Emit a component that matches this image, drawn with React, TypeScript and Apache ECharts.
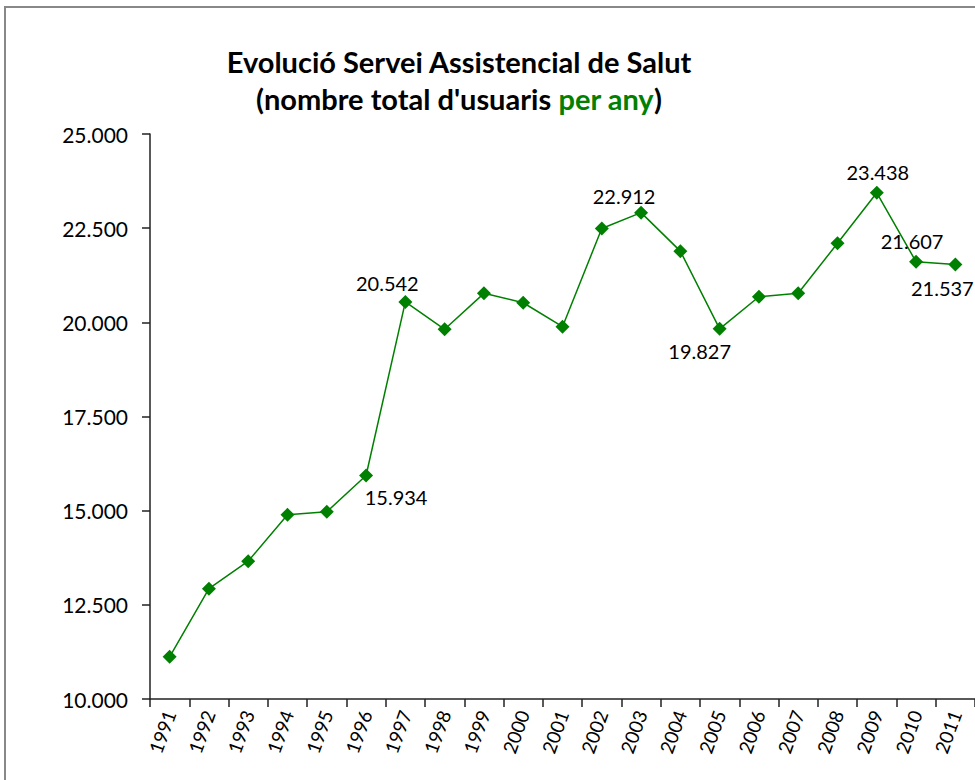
import React, { useEffect, useRef } from "react";
import * as echarts from "echarts";

const years = ["1991","1992","1993","1994","1995","1996","1997","1998","1999","2000","2001","2002","2003","2004","2005","2006","2007","2008","2009","2010","2011"];
const users = [11120,12930,13660,14890,14970,15934,20542,19815,20770,20520,19885,22490,22912,21890,19827,20680,20770,22100,23438,21607,21537];
// label offsets (dx, dy) from marker center for labeled points; null = no label
const labelOffsets: ([number, number] | null)[] = [null,null,null,null,null,[30,22],[-18,-19],null,null,null,null,null,[-17,-17],null,[-20,22],null,null,null,[1,-21],[-4,-21],[-13,24]];
const titleLine1 = "Evolució Servei Assistencial de Salut";
const titleLine2a = "(nombre total d'usuaris ";
const titleLine2b = "per any";
const titleLine2c = ")";

const FONT = "Lato, 'Open Sans', sans-serif";
const fmt = (n: number) => String(Math.round(n)).replace(/\B(?=(\d{3})+(?!\d))/g, ".");

export default function App() {
  const ref = useRef<HTMLDivElement>(null);
  useEffect(() => {
    if (!ref.current) return;
    const chart = echarts.init(ref.current, null, { renderer: "svg" });
    chart.setOption({
      animation: false,
      backgroundColor: "#ffffff",
      textStyle: { fontFamily: FONT },
      graphic: [
        { type: "rect", shape: { x: 5, y: 7, width: 1000, height: 800 }, style: { fill: "none", stroke: "#888888", lineWidth: 2 }, silent: true }
      ],
      title: {
        left: 459,
        top: 43,
        padding: 0,
        textAlign: "center",
        text: `{a|${titleLine1}}\n{a|${titleLine2a}}{g|${titleLine2b}}{a|${titleLine2c}}`,
        textStyle: {
          rich: {
            a: { fontFamily: FONT, fontSize: 29, fontWeight: "bold", color: "#000", lineHeight: 37 },
            g: { fontFamily: FONT, fontSize: 29, fontWeight: "bold", color: "#008000", lineHeight: 37 }
          }
        }
      },
      grid: { left: 150, right: 0, top: 134, bottom: 81, containLabel: false },
      xAxis: {
        type: "category",
        data: years,
        boundaryGap: true,
        axisLine: { lineStyle: { color: "#222", width: 1.5 } },
        axisTick: { show: true, length: 8, alignWithLabel: false, lineStyle: { color: "#222", width: 1.5 } },
        axisLabel: { rotate: 70, color: "#000", fontSize: 19, fontFamily: FONT, margin: 12, interval: 0 }
      },
      yAxis: {
        type: "value",
        min: 10000,
        max: 25000,
        interval: 2500,
        axisLine: { show: true, lineStyle: { color: "#222", width: 1.5 } },
        axisTick: { show: true, length: 8, lineStyle: { color: "#222", width: 1.5 } },
        splitLine: { show: false },
        axisLabel: { color: "#000", fontSize: 21, fontFamily: FONT, margin: 22, formatter: (v: number) => fmt(v) }
      },
      series: [
        {
          type: "line",
          data: users.map((v, i) => {
            const off = labelOffsets[i];
            return {
              value: v,
              label: off
                ? { show: true, position: "inside", offset: off, formatter: fmt(v), color: "#000", fontSize: 20, fontFamily: FONT }
                : { show: false }
            };
          }),
          symbol: "diamond",
          symbolSize: 14,
          lineStyle: { color: "#008000", width: 1.5 },
          itemStyle: { color: "#008000" }
        }
      ]
    });
    return () => chart.dispose();
  }, []);
  return <div ref={ref} style={{ position: "fixed", left: 0, top: 0, width: 975, height: 780 }} />;
}
